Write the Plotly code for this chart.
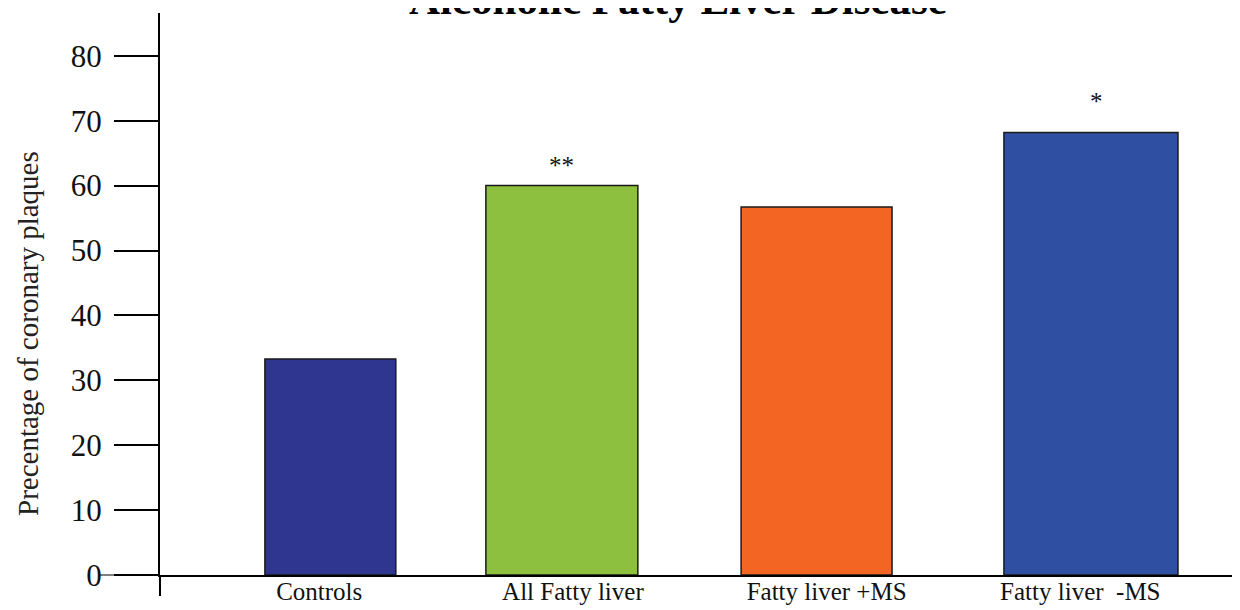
import plotly.graph_objects as go

categories = ["Controls", "All Fatty liver", "Fatty liver +MS", "Fatty liver  -MS"]
values = [33.3, 60.0, 56.7, 68.2]
significance = ["", "**", "", "*"]
y_ticks = [0, 10, 20, 30, 40, 50, 60, 70, 80]

# styling (not data)
colors = ["#2E3690", "#8DC03F", "#F26522", "#2F4FA2"]
bar_widths = [0.516, 0.599, 0.595, 0.686]
bar_offsets = [-0.214, -0.343, -0.337, -0.301]
star_shift = [0, 5, 0, 15]
star_xfix = [0, 0, 0, 6]

FONT = "Liberation Serif"
W, H = 1232, 602          # page has an 8px body margin
L, T, B = 152, 5, 35
PW = W - L
PH = H - T - B

fig = go.Figure()
fig.add_trace(go.Bar(
    x=categories, y=values,
    width=bar_widths, offset=bar_offsets,
    marker=dict(color=colors, line=dict(color="#1a1a1a", width=1.5)),
    showlegend=False, hoverinfo="x+y",
))

annotations = []
for i, (c, v, s) in enumerate(zip(categories, values, significance)):
    if s:
        annotations.append(dict(
            x=c, y=v, xref="x", yref="y", text=s, showarrow=False,
            xanchor="center", yanchor="bottom", yshift=star_shift[i],
            xshift=(bar_offsets[i] + bar_widths[i] / 2) * 253.7 + star_xfix[i],
            font=dict(family=FONT, size=25, color="#111"),
        ))

annotations.append(dict(
    x=(670 - L) / PW, y=1 - (17 - T) / PH, xref="paper", yref="paper",
    text="<b>Alcoholic Fatty Liver Disease</b>", showarrow=False,
    xanchor="center", yanchor="bottom",
    font=dict(family=FONT, size=43, color="#000"),
))
annotations.append(dict(
    x=(20 - L) / PW, y=(T + PH - 326) / PH, xref="paper", yref="paper",
    text="Precentage of coronary plaques", showarrow=False, textangle=-90,
    xanchor="center", yanchor="middle",
    font=dict(family=FONT, size=29, color="#222"),
))

fig.update_layout(
    width=W, height=H,
    margin=dict(l=L, r=0, t=T, b=B, autoexpand=False),
    paper_bgcolor="white", plot_bgcolor="white",
    font=dict(family=FONT, color="#111"),
    annotations=annotations,
    shapes=[
        dict(type="line", xref="paper", yref="paper", x0=0, x1=0, y0=-21 / PH, y1=0,
             line=dict(color="#000", width=2)),
        dict(type="line", xref="paper", yref="paper", x0=-60 / PW, x1=0, y0=0, y1=0,
             line=dict(color="#000", width=1.2)),
    ],
)
fig.update_xaxes(
    range=[-0.6275, 3.6295], showline=True, linecolor="#000", linewidth=1.5,
    ticks="", showgrid=False, zeroline=False, automargin=False,
    tickfont=dict(family=FONT, size=25, color="#111"), ticklabelstandoff=-7,
)
fig.update_yaxes(
    range=[0, 86.6], tickvals=y_ticks, showline=True, linecolor="#000", linewidth=2,
    ticks="outside", ticklen=44, tickwidth=2, tickcolor="#000",
    showgrid=False, zeroline=False, ticklabelstandoff=6, automargin=False,
    tickfont=dict(family=FONT, size=31, color="#111"),
)

fig.write_html("out.html")
